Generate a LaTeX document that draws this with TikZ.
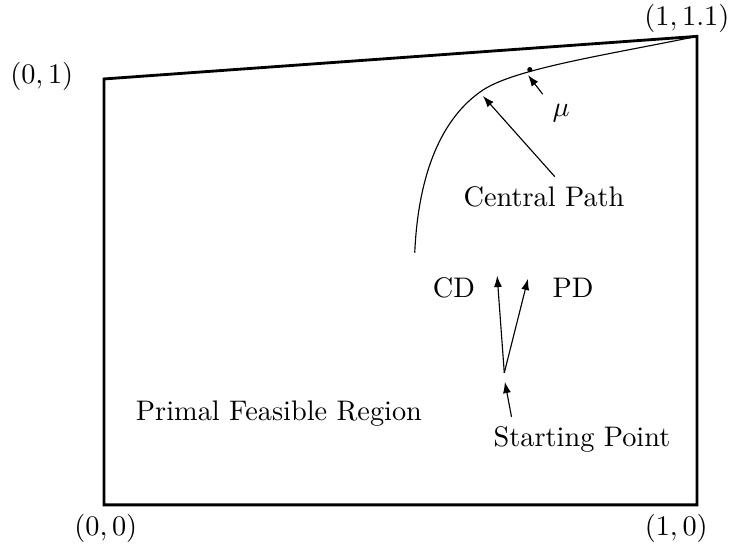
\documentclass[tikz,border=0pt]{standalone}
\usepackage{amsmath,amssymb}
\usetikzlibrary{arrows.meta, positioning, calc}

\begin{document}
\begin{tikzpicture}[x=7.365cm, y=5.29cm,
  region/.style={line width=1pt, line join=miter},
  path/.style={line width=0.4pt},
  >={Latex[length=1.4mm, width=1mm]}]
\useasboundingbox (-0.1754,-0.1127) rectangle (1.0641,1.1854);
% feasible region
\coordinate (c00) at (0,0);
\coordinate (c10) at (1,0);
\coordinate (c11) at (1,1.1);
\coordinate (c01) at (0,1);
\draw[region] (c00) -- (c10) -- (c11) -- (c01) -- cycle;
\node (l00) at (0.003,-0.056) {$(0,0)$};
\node (l10) at (0.965,-0.056) {$(1,0)$};
\node (l11) at (0.983,1.141) {$(1,1.1)$};
\node (l01) at (-0.105,1.005) {$(0,1)$};
\node (region) at (0.295,0.214) {Primal Feasible Region};
% central path
\coordinate (cpstart) at (0.524,0.592);
\coordinate (cpbend) at (0.639,0.974);
\draw[path] (cpstart) .. controls (0.530,0.78) and (0.570,0.910) .. (cpbend)
  .. controls (0.695,1.025) and (0.85,1.057) .. (c11);
\coordinate (mu) at (0.718,1.022);
\fill (mu) circle (0.9pt);
\coordinate (mutip) at (0.715,1.009);
\coordinate (cptip) at (0.639,0.960);
\node (mulbl) at (0.771,0.920) {$\mu$};
\node (cplbl) at (0.742,0.723) {Central Path};
\draw[->] (mulbl.north west) -- (mutip);
\draw[->] (cplbl.62) -- (cptip);
% search directions
\coordinate (sp) at (0.675,0.310);
\coordinate (cdtip) at (0.663,0.538);
\coordinate (pdtip) at (0.715,0.531);
\coordinate (sptip) at (0.676,0.289);
\node (cd) at (0.590,0.509) {CD};
\node (pd) at (0.791,0.509) {PD};
\node (splbl) at (0.806,0.153) {Starting Point};
\draw[->] (sp) -- (cdtip);
\draw[->] (sp) -- (pdtip);
\draw[->] (splbl.162) -- (sptip);
\end{tikzpicture}
\end{document}
